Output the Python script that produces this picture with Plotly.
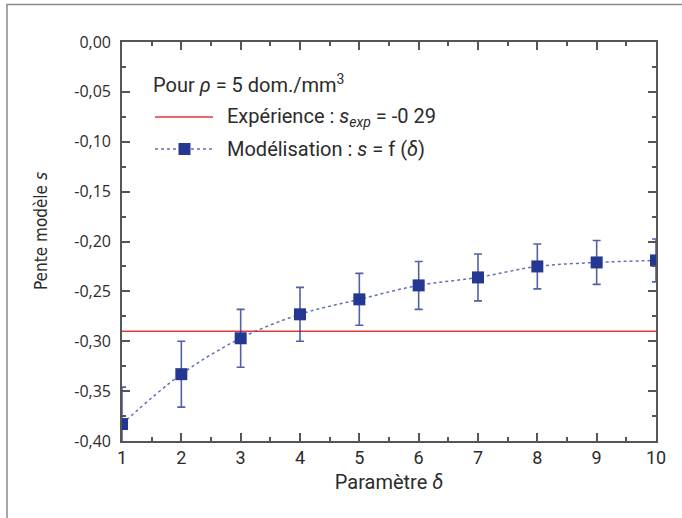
import plotly.graph_objects as go

# ---- data ----
delta = [1, 2, 3, 4, 5, 6, 7, 8, 9, 10]
s_model = [-0.383, -0.333, -0.297, -0.273, -0.258, -0.244, -0.236, -0.225, -0.221, -0.219]
s_err = [0.037, 0.033, 0.029, 0.027, 0.026, 0.024, 0.0235, 0.0225, 0.022, 0.0215]
s_exp = -0.29

x_tick_vals = [1, 2, 3, 4, 5, 6, 7, 8, 9, 10]
x_tick_labels = ["1", "2", "3", "4", "5", "6", "7", "8", "9", "10"]
y_tick_vals = [0.0, -0.05, -0.10, -0.15, -0.20, -0.25, -0.30, -0.35, -0.40]
y_tick_labels = ["0,00", "-0,05", "-0,10", "-0,15", "-0,20", "-0,25", "-0,30", "-0,35", "-0,40"]

# ---- layout geometry (pixels) ----
W, H = 682, 518
L, R, T, B = 122, 656, 42, 441


def px_x(p):
    return (p - L) / (R - L)


def px_y(p):
    return (B - p) / (B - T)


BLUE = "#253891"
DOT = "rgba(70,88,170,0.85)"
RED = "#e03a3a"
AXIS = "#555555"
TXT = "#2b2b2b"
COND = "Roboto, Liberation Sans, sans-serif"
NARROW = "Liberation Sans Narrow, DejaVu Sans Condensed, sans-serif"

fig = go.Figure()

# experimental horizontal line
fig.add_trace(go.Scatter(
    x=[delta[0], delta[-1]], y=[s_exp, s_exp], mode="lines",
    line=dict(color=RED, width=1.6), showlegend=False, hoverinfo="skip"))

# model curve
fig.add_trace(go.Scatter(
    x=delta, y=s_model, mode="lines+markers",
    line=dict(color=DOT, width=1.5, dash="dot", shape="spline"),
    marker=dict(symbol="square", size=12, color=BLUE),
    error_y=dict(type="data", array=s_err, visible=True,
                 color="rgba(38,56,145,0.8)", thickness=1.6, width=4),
    showlegend=False))

axis_common = dict(
    showline=True, linecolor=AXIS, linewidth=1.6, mirror="ticks",
    ticks="inside", ticklen=8, tickwidth=1.5, tickcolor=AXIS,
    showgrid=False, zeroline=False,
)

fig.update_xaxes(
    range=[1, 10], tickvals=x_tick_vals, ticktext=x_tick_labels,
    tickfont=dict(family=COND, size=18, color=TXT),
    minor=dict(dtick=0.5, tick0=0, ticks="inside", ticklen=4,
               tickwidth=1.5, tickcolor=AXIS),
    title=dict(text="Paramètre <i>δ</i>", font=dict(family=COND, size=20, color=TXT),
               standoff=8),
    **axis_common)

fig.update_yaxes(
    range=[-0.40, 0.0], tickvals=y_tick_vals, ticktext=y_tick_labels,
    tickfont=dict(family="Open Sans, sans-serif", size=16, color=TXT),
    ticklabelstandoff=6,
    minor=dict(dtick=0.025, tick0=0, ticks="inside", ticklen=4,
               tickwidth=1.5, tickcolor=AXIS),
    **axis_common)

shapes = [
    # outer frame (left and top visible, right/bottom beyond the page)
    dict(type="rect", xref="paper", yref="paper", x0=px_x(7), x1=px_x(700),
         y0=px_y(540), y1=px_y(4.5), layer="below",
         line=dict(color="#8a8a8a", width=1.5), fillcolor="rgba(0,0,0,0)"),
    # legend samples
    dict(type="line", xref="paper", yref="paper", x0=px_x(155), x1=px_x(213),
         y0=px_y(117), y1=px_y(117), line=dict(color=RED, width=1.6)),
    dict(type="line", xref="paper", yref="paper", x0=px_x(155), x1=px_x(213),
         y0=px_y(149), y1=px_y(149), line=dict(color=DOT, width=1.5, dash="dot")),
    dict(type="rect", xref="paper", yref="paper", x0=px_x(178.5), x1=px_x(190.5),
         y0=px_y(143), y1=px_y(155), fillcolor=BLUE, line=dict(width=0)),
]

annotations = [
    dict(text="Pour <i>ρ</i> = 5 dom./mm<sup>3</sup>", x=px_x(151), y=px_y(84),
         xref="paper", yref="paper", xanchor="left", yanchor="middle", showarrow=False,
         font=dict(family=COND, size=20, color=TXT)),
    dict(text="Expérience : <i>s</i><sub><i>exp</i></sub> = -0 29", x=px_x(225), y=px_y(117),
         xref="paper", yref="paper", xanchor="left", yanchor="middle", showarrow=False,
         font=dict(family=COND, size=20, color=TXT)),
    dict(text="Modélisation : <i>s</i> = f (<i>δ</i>)", x=px_x(225), y=px_y(149),
         xref="paper", yref="paper", xanchor="left", yanchor="middle", showarrow=False,
         font=dict(family=COND, size=20, color=TXT)),
    dict(text="Pente modèle <i>s</i>", x=px_x(41), y=px_y(231), textangle=-90,
         xref="paper", yref="paper", xanchor="center", yanchor="middle", showarrow=False,
         font=dict(family=NARROW, size=17, color=TXT)),
]

fig.update_layout(
    width=W, height=H,
    margin=dict(l=L, r=W - R, t=T, b=H - B, pad=0),
    paper_bgcolor="white", plot_bgcolor="white",
    shapes=shapes, annotations=annotations,
    showlegend=False,
)

fig.write_html("out.html", config={"displayModeBar": False},
               post_script="document.body.style.margin='0';document.body.style.overflow='hidden';")
